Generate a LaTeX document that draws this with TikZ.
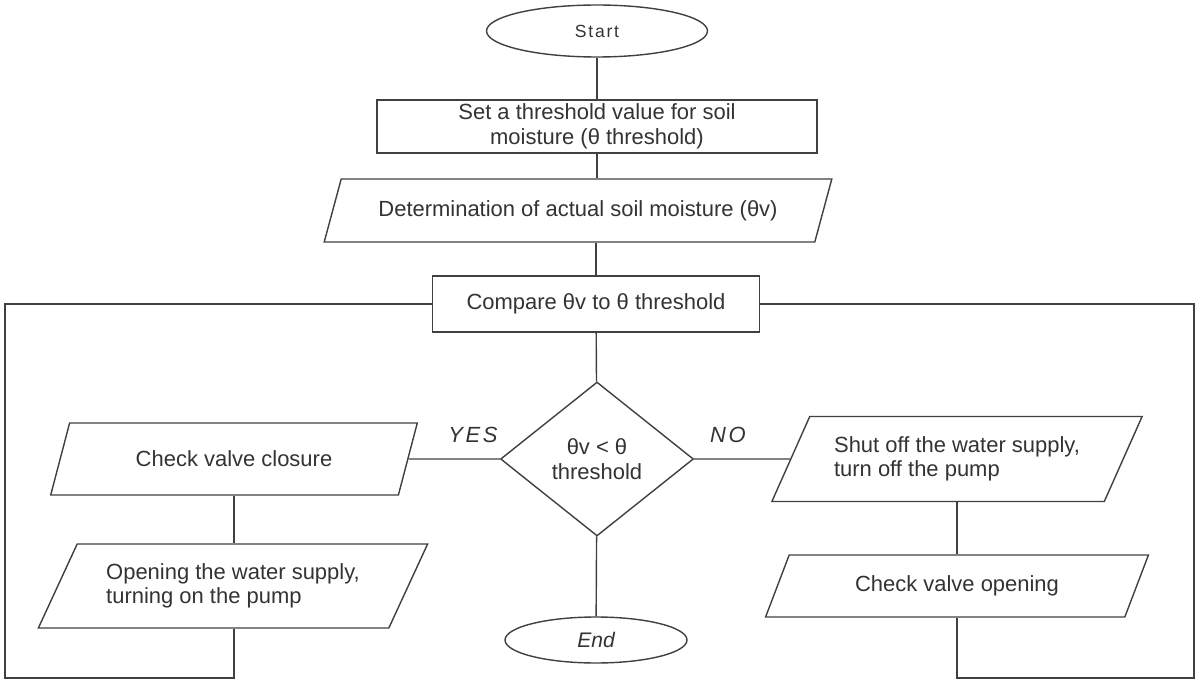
\documentclass[tikz,border=0pt]{standalone}
\usepackage{fontspec}
\setmainfont{Liberation Sans}
\usetikzlibrary{shapes.geometric}

\begin{document}
\begin{tikzpicture}[x=0.02cm,y=-0.02cm,
  every node/.style={font=\fontsize{12.5}{14}\selectfont,text=black!80},
  line/.style={black!75,line width=0.8pt},
  term/.style={ellipse,draw=black!75,line width=0.8pt,inner sep=0pt},
  proc/.style={rectangle,draw=black!75,line width=0.8pt,inner sep=0pt,align=center},
  io/.style={trapezium,trapezium left angle=55,trapezium right angle=125,
    trapezium stretches=true,draw=black!75,line width=0.8pt,inner sep=0pt},
  test/.style={diamond,draw=black!75,line width=0.8pt,inner sep=0pt,align=center},
  lbl/.style={font=\fontsize{12.5}{14}\selectfont\itshape\addfontfeature{LetterSpace=12}}]
  \useasboundingbox (0,0) rectangle (1200,682);
  % main column
  \node[term,minimum width=4.42cm,minimum height=1.04cm,
    font=\fontsize{10}{12}\selectfont\addfontfeature{LetterSpace=10}] (start) at (597,31) {Start};
  \node[proc,minimum width=8.8cm,minimum height=1.06cm] (set) at (597,126.5)
    {Set a threshold value for soil\\moisture (θ threshold)};
  \node[io,minimum width=10.16cm,minimum height=1.26cm] (meas) at (578,210.5)
    {Determination of actual soil moisture (θv)};
  \node[proc,minimum width=6.54cm,minimum height=1.12cm] (cmp) at (596,304)
    {Compare θv to θ threshold};
  \node[test,minimum width=3.86cm,minimum height=3.08cm] (dec) at (597,459)
    {θv < θ\\threshold};
  \node[term,minimum width=3.64cm,minimum height=0.92cm,font=\fontsize{12}{14}\selectfont\itshape] (stop) at (596,640) {End};
  % yes branch (left)
  \node[io,minimum width=7.34cm,minimum height=1.44cm] (chk) at (234,459) {Check valve closure};
  \node[io,minimum width=7.8cm,minimum height=1.68cm,align=left] (opn) at (233,586)
    {Opening the water supply,\\turning on the pump};
  % no branch (right)
  \node[io,minimum width=7.42cm,minimum height=1.7cm,align=left] (shut) at (957,459)
    {Shut off the water supply,\\turn off the pump};
  \node[io,minimum width=7.66cm,minimum height=1.24cm] (cvo) at (957,586) {Check valve opening};
  \node[lbl] (yes) at (473,435) {YES};
  \node[lbl] (no) at (728,435) {NO};
  \coordinate (lb) at (5,678);
  \coordinate (rb) at (1194,678);
  % connectors
  \draw[line] (start) -- (set);
  \draw[line] (set.south) -- (set.south |- meas.north);
  \draw[line] (cmp.north |- meas.south) -- (cmp.north);
  \draw[line] (cmp) -- (dec);
  \draw[line] (dec) -- (stop);
  \draw[line] (dec.west) -- (chk.east);
  \draw[line] (dec.east) -- (shut.west);
  \draw[line] (chk.center |- chk.south) -- (chk.center |- opn.north);
  \draw[line] (shut.center |- shut.south) -- (shut.center |- cvo.north);
  % loops back to the comparison
  \draw[line] (chk.center |- opn.south) |- (lb) |- (cmp.west);
  \draw[line] (shut.center |- cvo.south) |- (rb) |- (cmp.east);
\end{tikzpicture}
\end{document}
